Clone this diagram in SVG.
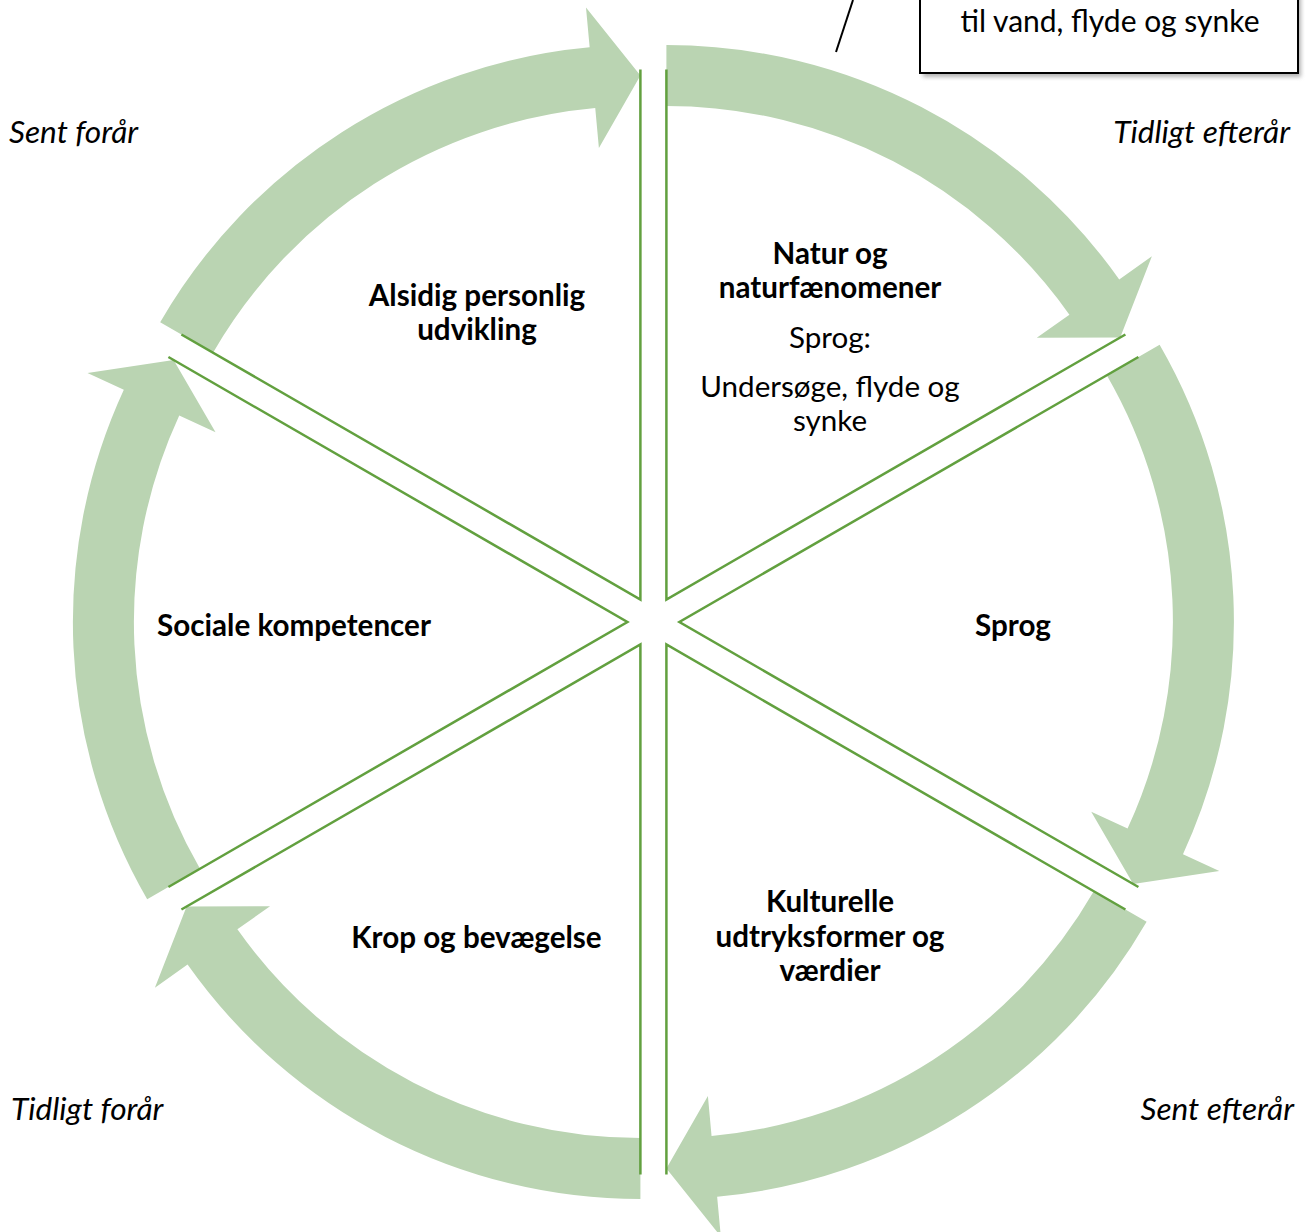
<svg xmlns="http://www.w3.org/2000/svg" xmlns:xlink="http://www.w3.org/1999/xlink" width="1309" height="1232" viewBox="0 0 1309 1232">
<style>
.arrow{fill:#BAD4B2;stroke:none}
.sector{fill:none;stroke:#62A03F;stroke-width:2.5;stroke-linejoin:miter}
.b{font-family:Lato,"Open Sans",sans-serif;font-weight:bold;font-size:29.6px;fill:#000;text-anchor:middle}
.r{font-family:Lato,"Open Sans",sans-serif;font-size:29.6px;fill:#000;text-anchor:middle}
.i{font-family:Lato,"Open Sans",sans-serif;font-style:italic;font-size:31.6px;fill:#000}
</style>
<defs>
<path id="arrow" class="arrow" d="M13,-577.02 A554.5,554.5 0 0 1 465.83,-342.55 L498.49,-365.64 L466.80,-284.52 L383.35,-284.26 L416.01,-307.34 A493.5,493.5 0 0 0 13,-516.02 Z"/>
<path id="sector" class="sector" d="M13,-552.52 L13,-22.52 L471.99,-287.52"/>
<filter id="shadow" x="-10%" y="-30%" width="120%" height="160%">
<feGaussianBlur stdDeviation="2"/>
</filter>
</defs>
<rect width="1309" height="1232" fill="#fff"/>
<g id="connectors" transform="translate(653.4,622)">
<use xlink:href="#arrow" href="#arrow"/>
<use xlink:href="#arrow" href="#arrow" transform="rotate(60)"/>
<use xlink:href="#arrow" href="#arrow" transform="rotate(120)"/>
<use xlink:href="#arrow" href="#arrow" transform="rotate(180)"/>
<use xlink:href="#arrow" href="#arrow" transform="rotate(240)"/>
<use xlink:href="#arrow" href="#arrow" transform="rotate(300)"/>
</g>
<g id="natur">
<use xlink:href="#sector" href="#sector" transform="translate(653.4,622)"/>
<text class="b" x="830" y="264">Natur og</text>
<text class="b" x="830" y="298">naturfænomener</text>
<text class="r" x="830" y="348">Sprog:</text>
<text class="r" x="830" y="397">Undersøge, flyde og</text>
<text class="r" x="830" y="431">synke</text>
</g>
<g id="sprog">
<use xlink:href="#sector" href="#sector" transform="translate(653.4,622) rotate(60)"/>
<text class="b" x="1013" y="636">Sprog</text>
</g>
<g id="kulturelle">
<use xlink:href="#sector" href="#sector" transform="translate(653.4,622) rotate(120)"/>
<text class="b" x="830" y="912">Kulturelle</text>
<text class="b" x="830" y="947">udtryksformer og</text>
<text class="b" x="830" y="981">værdier</text>
</g>
<g id="krop">
<use xlink:href="#sector" href="#sector" transform="translate(653.4,622) rotate(180)"/>
<text class="b" x="476.5" y="948">Krop og bevægelse</text>
</g>
<g id="sociale">
<use xlink:href="#sector" href="#sector" transform="translate(653.4,622) rotate(240)"/>
<text class="b" x="294" y="636">Sociale kompetencer</text>
</g>
<g id="alsidig">
<use xlink:href="#sector" href="#sector" transform="translate(653.4,622) rotate(300)"/>
<text class="b" x="477" y="306">Alsidig personlig</text>
<text class="b" x="477" y="340">udvikling</text>
</g>
<g id="seasons">
<text class="i" x="9" y="143">Sent forår</text>
<text class="i" x="1290" y="143" text-anchor="end">Tidligt efterår</text>
<text class="i" x="11" y="1120">Tidligt forår</text>
<text class="i" x="1294" y="1120" text-anchor="end">Sent efterår</text>
</g>
<g id="callout">
<rect x="923" y="-10" width="378" height="87" fill="#808080" opacity="0.6" filter="url(#shadow)"/>
<rect x="920" y="-10" width="378" height="83" fill="#fff" stroke="#000" stroke-width="2"/>
<text class="r" x="1110" y="32" style="font-size:30px">til vand, flyde og synke</text>
<line x1="836" y1="52" x2="853" y2="0" stroke="#000" stroke-width="2"/>
</g>
</svg>
